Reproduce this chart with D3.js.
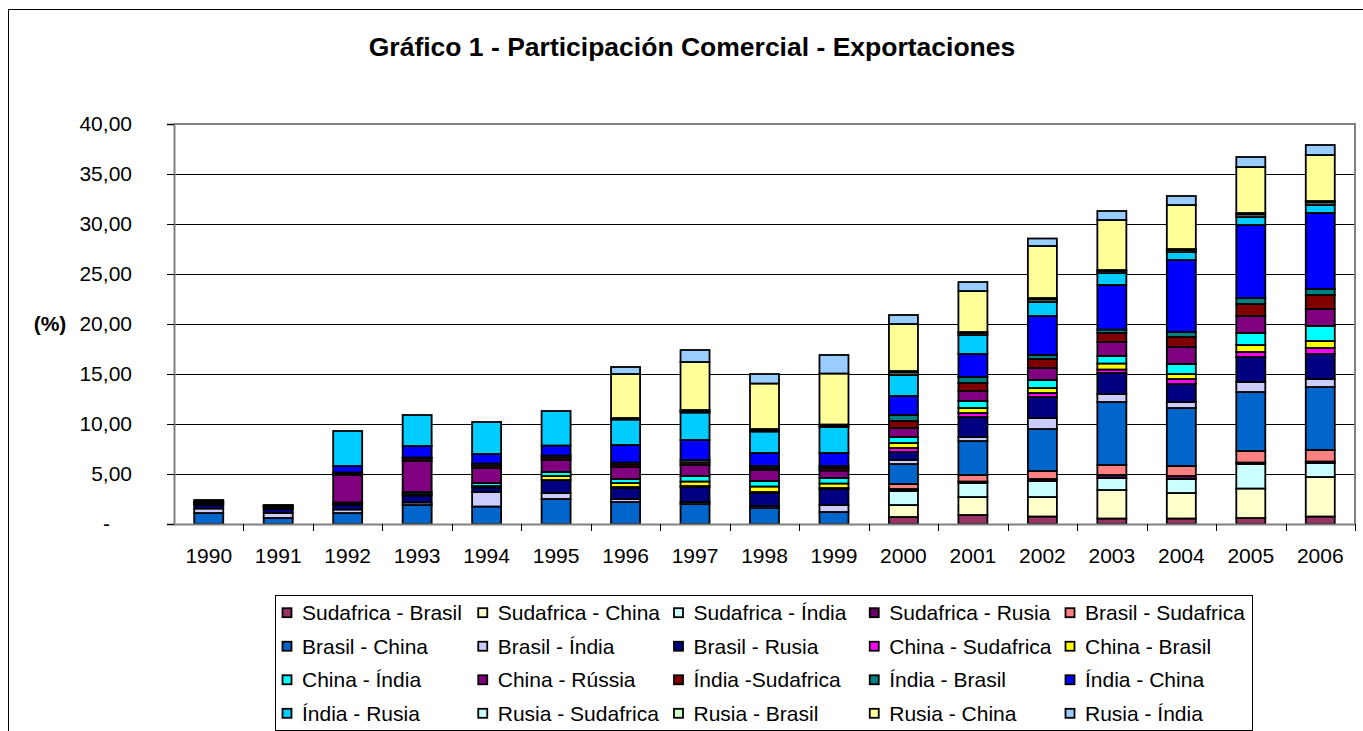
<!DOCTYPE html>
<html>
<head>
<meta charset="utf-8">
<script src="https://cdn.jsdelivr.net/npm/d3@7"></script>
<style>
  body { margin: 0; background: #fff; }
  text { font-family: "Liberation Sans", Arial, sans-serif; fill: #000; }
</style>
</head>
<body>
<svg id="chart"></svg>
<script>
// Years (categories)
const years = ["1990","1991","1992","1993","1994","1995","1996","1997","1998","1999","2000","2001","2002","2003","2004","2005","2006"];

// Series names, in stacking order (bottom to top) and legend order
const seriesNames = [
  "Sudafrica - Brasil", "Sudafrica - China", "Sudafrica - Índia", "Sudafrica - Rusia", "Brasil - Sudafrica",
  "Brasil - China", "Brasil - Índia", "Brasil - Rusia", "China - Sudafrica", "China - Brasil",
  "China - Índia", "China - Rússia", "Índia -Sudafrica", "Índia - Brasil", "Índia - China",
  "Índia - Rusia", "Rusia - Sudafrica", "Rusia - Brasil", "Rusia - China", "Rusia - Índia"
];

const seriesColors = [
  "#993366", "#FFFFCC", "#CCFFFF", "#660066", "#FF8080",
  "#0066CC", "#CCCCFF", "#000080", "#FF00FF", "#FFFF00",
  "#00FFFF", "#800080", "#800000", "#008080", "#0000FF",
  "#00CCFF", "#CCFFFF", "#CCFFCC", "#FFFF99", "#99CCFF"
];

// Values (%) per series, one per year
const sudBra = [0,0,0,0,0,0,0,0,0,0,0.7,0.9,0.75,0.55,0.55,0.6,0.75];
const sudChi = [0,0,0,0,0,0,0,0,0,0,1.2,1.8,1.95,2.85,2.55,2.95,3.95];
const sudInd = [0,0,0,0,0,0,0,0,0,0,1.4,1.4,1.6,1.2,1.4,2.45,1.4];
const sudRus = [0,0,0,0,0,0,0,0,0,0,0.2,0.15,0.2,0.3,0.3,0.15,0.15];
const braSud = [0,0,0,0,0,0,0,0,0,0,0.5,0.65,0.8,1.0,1.0,1.15,1.15];
const braChi = [1.1,0.6,1.1,1.9,1.75,2.5,2.2,2.0,1.6,1.2,2.0,3.4,4.2,6.3,5.8,5.9,6.3];
const braInd = [0.45,0.5,0.35,0.25,1.45,0.6,0.3,0.2,0.2,0.7,0.4,0.4,1.1,0.8,0.6,1.0,0.8];
const braRus = [0.35,0.4,0.45,0.7,0.45,1.3,1.1,1.5,1.3,1.6,0.8,2.0,2.1,2.1,1.8,2.5,2.5];
const chiSud = [0,0,0,0,0,0,0.1,0.1,0.1,0.1,0.4,0.4,0.4,0.35,0.5,0.5,0.6];
const chiBra = [0,0,0.1,0.15,0.15,0.4,0.4,0.45,0.55,0.45,0.5,0.5,0.5,0.6,0.5,0.7,0.7];
const chiInd = [0.05,0.05,0.15,0.2,0.3,0.4,0.4,0.55,0.55,0.55,0.6,0.7,0.8,0.75,1.0,1.2,1.5];
const chiRus = [0.15,0.15,2.75,3.1,1.5,1.2,1.2,1.1,1.1,0.75,0.9,1.0,1.2,1.4,1.7,1.7,1.7];
const indSud = [0.05,0.05,0.15,0.25,0.25,0.25,0.25,0.25,0.2,0.25,0.7,0.8,0.9,0.9,1.0,1.2,1.4];
const indBra = [0.05,0.05,0.1,0.1,0.2,0.2,0.2,0.25,0.2,0.2,0.6,0.6,0.4,0.35,0.5,0.6,0.6];
const indChi = [0.1,0.05,0.65,1.15,0.95,1.0,1.75,2.0,1.3,1.3,1.9,2.3,3.9,4.45,7.2,7.3,7.6];
const indRus = [0.1,0.05,3.5,3.1,3.2,3.45,2.55,2.75,2.15,2.6,2.1,1.9,1.4,1.2,0.8,0.8,0.8];
const rusSud = [0,0,0,0,0,0,0.1,0.15,0.15,0.15,0.25,0.2,0.25,0.2,0.2,0.25,0.25];
const rusBra = [0,0,0,0,0,0,0.05,0.1,0.1,0.1,0.15,0.1,0.15,0.1,0.1,0.15,0.15];
const rusChi = [0,0,0,0,0,0,4.4,4.8,4.55,5.1,4.7,4.1,5.2,5.0,4.4,4.6,4.6];
const rusInd = [0,0,0,0,0,0,0.7,1.2,0.95,1.85,0.9,0.9,0.75,0.9,0.9,1.0,1.0];

const seriesValues = [sudBra, sudChi, sudInd, sudRus, braSud, braChi, braInd, braRus, chiSud, chiBra,
  chiInd, chiRus, indSud, indBra, indChi, indRus, rusSud, rusBra, rusChi, rusInd];

const yTicks = [0, 5, 10, 15, 20, 25, 30, 35, 40];

// Build a table for d3.stack
const table = years.map((yr, i) => {
  const row = { year: yr };
  seriesNames.forEach((name, s) => { row[name] = seriesValues[s][i]; });
  return row;
});

const width = 1363, height = 731;
const plot = { left: 174, right: 1355, top: 124, bottom: 524 };

const svg = d3.select("#chart")
  .attr("width", width)
  .attr("height", height);

// Outer chart frame (runs off the right and bottom edges)
svg.append("rect")
  .attr("x", 8.5).attr("y", 9.5)
  .attr("width", 1420).attr("height", 800)
  .attr("fill", "#fff").attr("stroke", "#000").attr("stroke-width", 1);

// Title
svg.append("text")
  .attr("x", 692).attr("y", 56)
  .attr("text-anchor", "middle")
  .attr("font-size", 26.5).attr("font-weight", "bold")
  .text("Gráfico 1 - Participación Comercial - Exportaciones");

const x = d3.scaleBand()
  .domain(years)
  .range([plot.left, plot.right])
  .padding(0);

const y = d3.scaleLinear()
  .domain([0, 40])
  .range([plot.bottom, plot.top]);

// Gridlines
svg.append("g")
  .selectAll("line")
  .data(yTicks.filter(d => d > 0 && d < 40))
  .enter().append("line")
  .attr("x1", plot.left).attr("x2", plot.right)
  .attr("y1", d => Math.round(y(d)) + 0.5).attr("y2", d => Math.round(y(d)) + 0.5)
  .attr("stroke", "#000").attr("stroke-width", 1);

// Plot area border (top and right)
svg.append("path")
  .attr("d", `M${plot.left},${plot.top}H${plot.right}V${plot.bottom}`)
  .attr("fill", "none").attr("stroke", "#808080").attr("stroke-width", 2);

// Stacked bars
const stack = d3.stack().keys(seriesNames);
const stacked = stack(table);
const barWidth = 29;

const layers = svg.append("g")
  .selectAll("g")
  .data(stacked)
  .enter().append("g")
  .attr("fill", (d, i) => seriesColors[i]);

layers.selectAll("rect")
  .data(d => d.filter(p => p[1] - p[0] > 0))
  .enter().append("rect")
  .attr("x", d => x(d.data.year) + x.bandwidth() / 2 - barWidth / 2)
  .attr("y", d => y(d[1]))
  .attr("width", barWidth)
  .attr("height", d => y(d[0]) - y(d[1]))
  .attr("stroke", "#000")
  .attr("stroke-width", 1.8);

// Y axis
const fmt = d => d === 0 ? "-" : d.toFixed(2).replace(".", ",");
const yAxis = svg.append("g")
  .attr("transform", `translate(${plot.left},0)`)
  .call(d3.axisLeft(y).tickValues(yTicks).tickFormat(fmt).tickSize(7).tickPadding(35));
yAxis.select(".domain").attr("stroke", "#808080").attr("stroke-width", 2);
yAxis.selectAll(".tick line").attr("stroke", "#000");
yAxis.selectAll(".tick text")
  .attr("font-size", 21)
  .attr("font-family", "Liberation Sans, Arial, sans-serif")
  .attr("dx", d => d === 0 ? -22 : 0);

// X axis
const xAxis = svg.append("g")
  .attr("transform", `translate(0,${plot.bottom})`)
  .call(d3.axisBottom(x).tickSize(0).tickPadding(24));
xAxis.select(".domain").attr("stroke", "#808080").attr("stroke-width", 2);
xAxis.selectAll(".tick text")
  .attr("font-size", 21)
  .attr("font-family", "Liberation Sans, Arial, sans-serif");

// category separator ticks below the axis
svg.append("g")
  .selectAll("line")
  .data(years)
  .enter().append("line")
  .attr("x1", d => Math.round(x(d) + x.bandwidth()) + 0.5)
  .attr("x2", d => Math.round(x(d) + x.bandwidth()) + 0.5)
  .attr("y1", plot.bottom).attr("y2", plot.bottom + 7)
  .attr("stroke", "#000");

// Y axis label
svg.append("text")
  .attr("x", 50).attr("y", 331)
  .attr("text-anchor", "middle")
  .attr("font-size", 21).attr("font-weight", "bold")
  .text("(%)");

// Legend
const legend = svg.append("g");
legend.append("rect")
  .attr("x", 275.5).attr("y", 595.5)
  .attr("width", 977).attr("height", 135)
  .attr("fill", "#fff").attr("stroke", "#000");

const colX = d3.scaleLinear().domain([0, 4]).range([282, 1065]);
const rowY = d3.scaleLinear().domain([0, 3]).range([612.7, 713.3]);

const items = legend.selectAll("g.item")
  .data(seriesNames)
  .enter().append("g")
  .attr("class", "item")
  .attr("transform", (d, i) => `translate(${colX(i % 5)},${rowY(Math.floor(i / 5))})`);

items.append("rect")
  .attr("x", 0.5).attr("y", -4.5)
  .attr("width", 9).attr("height", 9)
  .attr("fill", (d, i) => seriesColors[i])
  .attr("stroke", "#000").attr("stroke-width", 1.8);

items.append("text")
  .attr("x", 20).attr("y", 0)
  .attr("dy", "0.35em")
  .attr("font-size", 21)
  .text(d => d);
</script>
</body>
</html>
